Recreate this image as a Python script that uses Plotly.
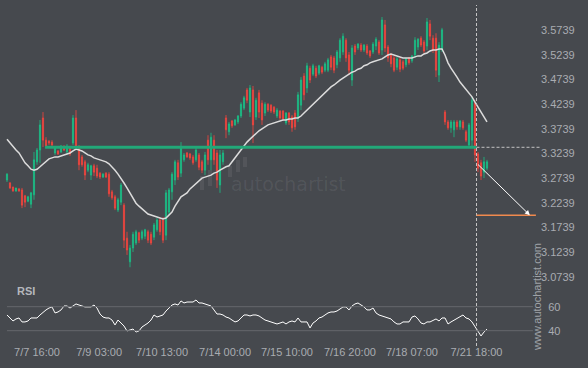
import plotly.graph_objects as go

# ---------------- data ----------------
open_ = [3.270, 3.264, 3.256, 3.248, 3.252, 3.250, 3.238, 3.227, 3.221, 3.240,
         3.307, 3.331, 3.396, 3.351, 3.349, 3.347, 3.325, 3.329, 3.327, 3.337,
         3.327, 3.337, 3.345, 3.396, 3.337, 3.317, 3.307, 3.290, 3.280, 3.299,
         3.294, 3.284, 3.276, 3.284, 3.282, 3.246, 3.236, 3.209, 3.225, 3.219,
         3.152, 3.104, 3.132, 3.142, 3.163, 3.152, 3.156, 3.165, 3.160, 3.154,
         3.169, 3.189, 3.189, 3.158, 3.205, 3.246, 3.270, 3.305, 3.284, 3.311,
         3.325, 3.323, 3.317, 3.311, 3.321, 3.307, 3.290, 3.351, 3.311, 3.351,
         3.325, 3.260, 3.307, 3.396, 3.368, 3.390, 3.382, 3.388, 3.400, 3.416,
         3.453, 3.408, 3.453, 3.398, 3.447, 3.426, 3.406, 3.424, 3.422, 3.418,
         3.400, 3.410, 3.410, 3.386, 3.406, 3.398, 3.406, 3.396, 3.422, 3.481,
         3.457, 3.497, 3.485, 3.497, 3.487, 3.499, 3.493, 3.493, 3.520, 3.518,
         3.504, 3.518, 3.530, 3.554, 3.524, 3.473, 3.542, 3.538, 3.544, 3.534,
         3.542, 3.532, 3.530, 3.542, 3.550, 3.534, 3.585, 3.540, 3.524, 3.518,
         3.499, 3.514, 3.510, 3.504, 3.518, 3.512, 3.524, 3.540, 3.558, 3.550,
         3.542, 3.587, 3.558, 3.558, 3.483, 3.534, 3.408, 3.388, 3.376, 3.372,
         3.388, 3.378, 3.388, 3.368, 3.341, 3.351, 3.426, 3.323, 3.305, 3.286,
         3.294]
high_ = [3.284, 3.266, 3.256, 3.254, 3.254, 3.254, 3.240, 3.238, 3.246, 3.327,
         3.335, 3.392, 3.408, 3.357, 3.351, 3.351, 3.339, 3.331, 3.341, 3.341,
         3.343, 3.339, 3.402, 3.412, 3.341, 3.321, 3.311, 3.305, 3.301, 3.303,
         3.301, 3.286, 3.284, 3.286, 3.286, 3.250, 3.240, 3.234, 3.264, 3.223,
         3.165, 3.138, 3.165, 3.169, 3.165, 3.169, 3.171, 3.169, 3.165, 3.183,
         3.193, 3.193, 3.195, 3.250, 3.254, 3.286, 3.311, 3.311, 3.347, 3.325,
         3.327, 3.325, 3.321, 3.335, 3.325, 3.311, 3.327, 3.361, 3.366, 3.361,
         3.331, 3.331, 3.331, 3.402, 3.388, 3.392, 3.394, 3.402, 3.428, 3.441,
         3.457, 3.463, 3.461, 3.437, 3.453, 3.432, 3.428, 3.426, 3.424, 3.420,
         3.416, 3.412, 3.412, 3.408, 3.408, 3.402, 3.412, 3.449, 3.479, 3.487,
         3.508, 3.502, 3.506, 3.502, 3.504, 3.502, 3.510, 3.518, 3.524, 3.522,
         3.534, 3.558, 3.568, 3.558, 3.530, 3.544, 3.546, 3.548, 3.548, 3.546,
         3.546, 3.534, 3.550, 3.560, 3.554, 3.601, 3.595, 3.544, 3.528, 3.522,
         3.520, 3.518, 3.514, 3.518, 3.520, 3.524, 3.560, 3.558, 3.562, 3.554,
         3.599, 3.595, 3.564, 3.568, 3.550, 3.579, 3.412, 3.392, 3.392, 3.392,
         3.392, 3.392, 3.392, 3.372, 3.386, 3.439, 3.432, 3.327, 3.311, 3.317,
         3.311]
low_ = [3.266, 3.252, 3.246, 3.246, 3.246, 3.213, 3.215, 3.225, 3.213, 3.230,
        3.301, 3.305, 3.337, 3.335, 3.341, 3.339, 3.321, 3.321, 3.325, 3.329,
        3.323, 3.319, 3.341, 3.331, 3.290, 3.297, 3.270, 3.286, 3.270, 3.278,
        3.274, 3.272, 3.274, 3.274, 3.236, 3.230, 3.209, 3.205, 3.219, 3.132,
        3.118, 3.093, 3.124, 3.138, 3.142, 3.148, 3.150, 3.142, 3.138, 3.148,
        3.165, 3.158, 3.142, 3.148, 3.199, 3.230, 3.260, 3.270, 3.276, 3.307,
        3.315, 3.311, 3.301, 3.307, 3.290, 3.284, 3.280, 3.301, 3.290, 3.301,
        3.254, 3.244, 3.301, 3.355, 3.361, 3.376, 3.380, 3.384, 3.396, 3.412,
        3.426, 3.398, 3.345, 3.392, 3.396, 3.382, 3.400, 3.408, 3.406, 3.404,
        3.396, 3.392, 3.390, 3.382, 3.382, 3.368, 3.372, 3.388, 3.412, 3.432,
        3.447, 3.467, 3.481, 3.477, 3.483, 3.485, 3.489, 3.489, 3.493, 3.487,
        3.497, 3.510, 3.524, 3.510, 3.483, 3.461, 3.524, 3.534, 3.530, 3.530,
        3.524, 3.518, 3.526, 3.534, 3.524, 3.524, 3.530, 3.510, 3.499, 3.489,
        3.493, 3.489, 3.493, 3.499, 3.504, 3.508, 3.518, 3.534, 3.540, 3.528,
        3.534, 3.554, 3.528, 3.479, 3.469, 3.530, 3.382, 3.372, 3.366, 3.357,
        3.372, 3.372, 3.372, 3.347, 3.337, 3.337, 3.307, 3.286, 3.270, 3.274,
        3.290]
close_ = [3.282, 3.254, 3.248, 3.254, 3.248, 3.219, 3.225, 3.236, 3.244, 3.311,
          3.331, 3.382, 3.351, 3.339, 3.345, 3.341, 3.337, 3.323, 3.339, 3.331,
          3.339, 3.323, 3.396, 3.337, 3.301, 3.301, 3.280, 3.301, 3.299, 3.286,
          3.278, 3.276, 3.282, 3.276, 3.242, 3.234, 3.213, 3.230, 3.260, 3.148,
          3.128, 3.132, 3.160, 3.165, 3.148, 3.165, 3.169, 3.148, 3.142, 3.179,
          3.189, 3.165, 3.148, 3.244, 3.250, 3.282, 3.307, 3.276, 3.337, 3.321,
          3.317, 3.315, 3.305, 3.331, 3.296, 3.290, 3.321, 3.311, 3.357, 3.311,
          3.270, 3.321, 3.325, 3.372, 3.384, 3.380, 3.392, 3.400, 3.424, 3.437,
          3.432, 3.457, 3.382, 3.432, 3.408, 3.392, 3.424, 3.412, 3.410, 3.408,
          3.412, 3.396, 3.394, 3.406, 3.388, 3.376, 3.378, 3.443, 3.473, 3.443,
          3.502, 3.473, 3.502, 3.481, 3.502, 3.489, 3.506, 3.514, 3.499, 3.493,
          3.530, 3.554, 3.562, 3.518, 3.493, 3.538, 3.530, 3.546, 3.534, 3.544,
          3.528, 3.522, 3.546, 3.556, 3.528, 3.595, 3.538, 3.518, 3.506, 3.493,
          3.516, 3.495, 3.497, 3.516, 3.508, 3.522, 3.554, 3.556, 3.544, 3.532,
          3.591, 3.562, 3.534, 3.493, 3.544, 3.575, 3.388, 3.376, 3.388, 3.388,
          3.378, 3.390, 3.376, 3.351, 3.382, 3.432, 3.321, 3.294, 3.278, 3.307,
          3.307]
moving_avg = [3.353, 3.345, 3.339, 3.331, 3.325, 3.315, 3.305, 3.299, 3.292, 3.290,
              3.292, 3.297, 3.303, 3.309, 3.313, 3.315, 3.317, 3.317, 3.319, 3.321,
              3.323, 3.325, 3.329, 3.333, 3.331, 3.329, 3.325, 3.321, 3.319, 3.315,
              3.313, 3.311, 3.309, 3.307, 3.303, 3.297, 3.290, 3.282, 3.274, 3.264,
              3.254, 3.244, 3.234, 3.223, 3.217, 3.211, 3.205, 3.201, 3.199, 3.197,
              3.195, 3.193, 3.191, 3.193, 3.199, 3.205, 3.217, 3.227, 3.236, 3.240,
              3.244, 3.252, 3.258, 3.264, 3.270, 3.274, 3.276, 3.278, 3.280, 3.284,
              3.286, 3.290, 3.294, 3.297, 3.299, 3.307, 3.317, 3.325, 3.333, 3.339,
              3.347, 3.353, 3.359, 3.366, 3.370, 3.374, 3.378, 3.382, 3.384, 3.386,
              3.388, 3.390, 3.392, 3.392, 3.394, 3.394, 3.396, 3.396, 3.400, 3.406,
              3.412, 3.418, 3.424, 3.430, 3.437, 3.443, 3.449, 3.455, 3.459, 3.463,
              3.469, 3.473, 3.477, 3.481, 3.485, 3.489, 3.491, 3.495, 3.497, 3.502,
              3.504, 3.508, 3.510, 3.512, 3.514, 3.516, 3.520, 3.524, 3.526, 3.524,
              3.522, 3.520, 3.518, 3.518, 3.518, 3.518, 3.520, 3.522, 3.522, 3.526,
              3.528, 3.532, 3.534, 3.534, 3.536, 3.536, 3.524, 3.508, 3.497, 3.489,
              3.479, 3.469, 3.461, 3.455, 3.447, 3.439, 3.428, 3.418, 3.408, 3.398,
              3.388]
rsi_vals = [53.1, 50.6, 48.1, 49.8, 50.6, 47.3, 47.3, 48.1, 50.6, 50.6,
            50.6, 53.1, 55.6, 57.3, 58.9, 59.8, 54.8, 55.6, 57.3, 60.6,
            60.6, 58.9, 60.6, 62.3, 61.4, 60.6, 59.8, 59.8, 59.8, 61.4,
            58.9, 53.9, 51.4, 50.6, 50.6, 48.9, 44.8, 48.9, 46.4, 43.9,
            39.8, 40.6, 41.4, 38.9, 39.8, 43.1, 44.8, 46.4, 48.9, 53.1,
            51.4, 52.3, 53.1, 56.4, 58.9, 61.4, 62.3, 61.4, 64.8, 63.1,
            63.9, 63.9, 63.9, 65.6, 63.1, 63.1, 62.3, 61.4, 60.6, 57.3,
            53.9, 53.9, 53.1, 51.4, 50.6, 48.9, 47.3, 48.1, 50.6, 53.1,
            53.1, 52.3, 53.1, 53.1, 52.3, 50.6, 48.9, 48.1, 47.3, 46.4,
            45.6, 46.4, 47.3, 45.6, 47.3, 48.1, 47.3, 50.6, 47.3, 47.3,
            47.3, 42.3, 46.4, 48.1, 50.6, 51.4, 53.1, 54.8, 55.6, 55.6,
            56.4, 58.1, 59.8, 59.8, 57.3, 60.6, 62.3, 63.1, 61.4, 59.8,
            57.3, 57.3, 58.9, 54.8, 53.1, 52.3, 51.4, 50.6, 49.8, 47.3,
            45.6, 45.6, 47.3, 47.3, 47.3, 51.4, 52.3, 49.8, 46.4, 45.6,
            47.3, 47.3, 48.9, 49.8, 48.1, 50.6, 50.6, 45.6, 47.3, 48.9,
            49.8, 51.4, 53.1, 50.6, 49.8, 47.3, 43.1, 38.9, 35.6, 38.9,
            41.4]

x_tick_pos = [10, 30.7, 51.7, 72.7, 93.3, 114.3, 135, 156.5]
x_tick_text = ["7/7 16:00", "7/9 03:00", "7/10 13:00", "7/14 00:00",
               "7/15 10:00", "7/16 20:00", "7/18 07:00", "7/21 18:00"]
price_ticks = [3.0739, 3.1239, 3.1739, 3.2239, 3.2739, 3.3239,
               3.3739, 3.4239, 3.4739, 3.5239, 3.5739, 3.6239]
price_tick_text = ["3.0739", "3.1239", "3.1739", "3.2239", "3.2739", "3.3239",
                   "3.3739", "3.4239", "3.4739", "3.5239", "3.5739", "3.6239"]
rsi_ticks = [40, 60]

level_price = 3.3365        # broken support level
level_start = 12.7          # candle index where the level begins
breakout_idx = 156.5        # "now" marker
arrow_start_price = 3.3045
target_price = 3.1985
arrow_end_idx = 174.3
target_end_idx = 176.3

# ---------------- style ----------------
BG = "#46494e"
GREEN = "#1bbf87"
RED = "#f2453d"
LEVEL = "#22a878"
TXT = "#a9acb1"
FONT = "Liberation Sans, Arial, sans-serif"

W, H = 588, 368
ML, MR, MT, MB = 0, 48, 0, 24
PW, PH = W - ML - MR, H - MT - MB
X_RANGE = [-7 / 3, (PW - 7) / 3]


def px(xp):
    return xp / PW


def py(yp):
    return (PH - yp) / PH


idx = list(range(len(open_)))

fig = go.Figure()
fig.add_trace(go.Candlestick(
    x=idx, open=open_, high=high_, low=low_, close=close_,
    increasing=dict(line=dict(color=GREEN, width=0.8), fillcolor=GREEN),
    decreasing=dict(line=dict(color=RED, width=0.8), fillcolor=RED),
    whiskerwidth=0, hoverinfo="skip", showlegend=False,
    xaxis="x", yaxis="y"))
fig.add_trace(go.Scatter(
    x=idx, y=moving_avg, mode="lines", hoverinfo="skip", showlegend=False,
    line=dict(color="#dcdcdc", width=1.5), xaxis="x", yaxis="y"))
fig.add_trace(go.Scatter(
    x=idx, y=rsi_vals, mode="lines", hoverinfo="skip", showlegend=False,
    line=dict(color="#ffffff", width=1), xaxis="x", yaxis="y2"))

shapes = [
    dict(type="line", xref="x", yref="y", x0=level_start, x1=breakout_idx,
         y0=level_price, y1=level_price, line=dict(color=LEVEL, width=3)),
    dict(type="line", xref="x", yref="y", x0=breakout_idx, x1=X_RANGE[1],
         y0=level_price, y1=level_price,
         line=dict(color="#c4c4c4", width=1, dash="3px,2px")),
    dict(type="line", xref="x", yref="paper", x0=breakout_idx, x1=breakout_idx,
         y0=py(346), y1=py(5), line=dict(color="#c4c4c4", width=1, dash="3px,2px")),
    dict(type="line", xref="x", yref="y", x0=breakout_idx, x1=target_end_idx,
         y0=target_price, y1=target_price, line=dict(color="#f08a4e", width=1.5)),
]
for v in rsi_ticks:
    shapes.append(dict(type="line", xref="x", yref="y2", x0=0, x1=175.3,
                       y0=v, y1=v, line=dict(color="#65686d", width=1)))
# faint logo bars of the watermark
for (x0, y0, x1, y1) in [(200, 176, 204, 190), (208, 170, 212, 186),
                         (228, 166, 232, 177), (236, 160, 240, 172),
                         (243, 157, 247, 167)]:
    shapes.append(dict(type="rect", xref="paper", yref="paper",
                       x0=px(x0), x1=px(x1), y0=py(y1), y1=py(y0),
                       line=dict(width=0), fillcolor="rgba(255,255,255,0.07)",
                       layer="below"))

annotations = [
    dict(x=arrow_end_idx, y=target_price, ax=breakout_idx, ay=arrow_start_price,
         xref="x", yref="y", axref="x", ayref="y", text="", showarrow=True,
         arrowhead=2, arrowsize=1, arrowwidth=1, arrowcolor="#ffffff"),
    dict(x=px(15), y=py(291), xref="paper", yref="paper", text="<b>RSI</b>",
         showarrow=False, xanchor="left", yanchor="middle",
         font=dict(family=FONT, size=11, color="#b4b7bc")),
    dict(x=px(288), y=py(184), xref="paper", yref="paper", text="autochartist",
         showarrow=False, xanchor="center", yanchor="middle",
         font=dict(family="DejaVu Sans", size=19, color="rgba(255,255,255,0.08)")),
    dict(x=px(537), y=py(297), xref="paper", yref="paper",
         text="www.autochartist.com", textangle=-90, showarrow=False,
         xanchor="center", yanchor="middle",
         font=dict(family=FONT, size=11, color="#9fa2a7")),
]

fig.update_layout(
    width=W, height=H,
    margin=dict(l=ML, r=MR, t=MT, b=MB, pad=0),
    paper_bgcolor=BG, plot_bgcolor=BG,
    font=dict(family=FONT, size=11, color=TXT),
    showlegend=False,
    hovermode=False,
    boxgap=0.45,
    xaxis=dict(range=X_RANGE, anchor="y2", tickvals=x_tick_pos, ticktext=x_tick_text,
               showgrid=False, zeroline=False, showline=False, ticks="",
               rangeslider=dict(visible=False), fixedrange=True,
               tickfont=dict(family=FONT, size=11, color=TXT)),
    yaxis=dict(domain=[py(283), 1], range=[3.6355 - 0.00203 * 283, 3.6355],
               side="right", anchor="x", tickvals=price_ticks, ticktext=price_tick_text,
               showgrid=False, zeroline=False, showline=False, ticks="",
               tickfont=dict(family=FONT, size=11, color=TXT)),
    yaxis2=dict(domain=[0, py(285)], range=[60 - (PH - 306.7) / 1.2, 60 + (306.7 - 285) / 1.2],
                side="right", anchor="x", tickvals=rsi_ticks, ticktext=["40", "60"],
                showgrid=False, zeroline=False, showline=False,
                ticks="outside", ticklen=5, tickcolor=BG,
                tickfont=dict(family=FONT, size=11, color=TXT)),
    shapes=shapes,
    annotations=annotations,
)

fig.write_html(
    "out.html",
    config={"displayModeBar": False},
    post_script="document.body.style.margin='0';document.body.style.overflow='hidden';",
)
